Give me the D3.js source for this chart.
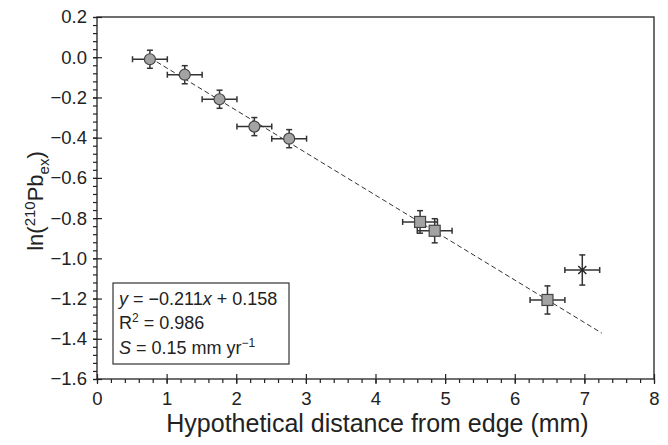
<!DOCTYPE html>
<html>
<head>
<meta charset="utf-8">
<script src="https://cdn.jsdelivr.net/npm/d3@7"></script>
<style>
  body { margin: 0; background: #fff; }
  text { font-family: "Liberation Sans", Arial, sans-serif; fill: #222; }
</style>
</head>
<body>
<svg width="668" height="445"></svg>
<script>
// circles (outer part), squares (inner part), and the outlier cross
const circleX = [0.76, 1.26, 1.76, 2.26, 2.76];
const circleY = [-0.01, -0.087, -0.209, -0.345, -0.405];
const circleErrY = [0.045, 0.045, 0.045, 0.045, 0.045];

const squareX = [4.64, 4.85, 6.47];
const squareY = [-0.819, -0.863, -1.207];
const squareErrY = [0.056, 0.06, 0.07];

const crossX = [6.97];
const crossY = [-1.058];
const crossErrY = [0.075];

const errX = 0.25;
const fitSlope = -0.211, fitIntercept = 0.158;
const fitRange = [0.76, 7.25];

const xTicks = [0, 1, 2, 3, 4, 5, 6, 7, 8];
const yTicks = [0.2, 0.0, -0.2, -0.4, -0.6, -0.8, -1.0, -1.2, -1.4, -1.6];

const svg = d3.select("svg"),
      margin = {top: 17, right: 14, bottom: 66, left: 97},
      width = +svg.attr("width") - margin.left - margin.right,
      height = +svg.attr("height") - margin.top - margin.bottom;

const g = svg.append("g").attr("transform", `translate(${margin.left},${margin.top})`);

const x = d3.scaleLinear().domain([0, 8]).range([0, width]);
const y = d3.scaleLinear().domain([-1.6, 0.2]).range([height, 0]);

// frame
g.append("rect").attr("width", width).attr("height", height)
  .attr("fill", "none").attr("stroke", "#222").attr("stroke-width", 1.3);

// minor ticks
const xMinor = d3.range(0, 8.001, 0.2);
g.append("g").attr("transform", `translate(0,${height})`)
  .call(d3.axisBottom(x).tickValues(xMinor).tickSize(4).tickFormat(""))
  .call(a => a.select(".domain").remove());
const yMinor = d3.range(-1.6, 0.2001, 0.04);
g.append("g")
  .call(d3.axisLeft(y).tickValues(yMinor).tickSize(4).tickFormat(""))
  .call(a => a.select(".domain").remove());

// major ticks crossing the axis
const xAx = g.append("g").attr("transform", `translate(0,${height})`)
  .call(d3.axisBottom(x).tickValues(xTicks).tickSize(5).tickPadding(8).tickFormat(d3.format("d")));
xAx.select(".domain").remove();
xAx.selectAll(".tick line").attr("y1", -5);
xAx.selectAll("text").attr("font-size", 18.5).attr("fill", "#222");

const yAx = g.append("g")
  .call(d3.axisLeft(y).tickValues(yTicks).tickSize(4).tickPadding(6)
    .tickFormat(d => d3.format(".1f")(d).replace("-", "\u2212")));
yAx.select(".domain").remove();
yAx.selectAll(".tick line").attr("x1", 5).attr("x2", -4);
yAx.selectAll("text").attr("font-size", 18.5).attr("fill", "#222");

svg.selectAll(".tick line").attr("stroke", "#222").attr("stroke-width", 1.2);

// axis labels
g.append("text")
  .attr("x", width / 2 + 2).attr("y", height + 53)
  .attr("text-anchor", "middle").attr("font-size", 25)
  .text("Hypothetical distance from edge (mm)");

// y label: start-anchored, then centred by measuring it
const yl = g.append("text").attr("font-size", 22);
yl.append("tspan").text("ln(");
yl.append("tspan").attr("dy", -8).attr("font-size", 15).text("210");
yl.append("tspan").attr("dy", 8).text("Pb");
yl.append("tspan").attr("dy", 6).attr("font-size", 15).text("ex");
yl.append("tspan").attr("dy", -6).text(")");
const ylw = yl.node().getBBox().width;
yl.attr("transform", `translate(-54,${184 + ylw / 2}) rotate(-90)`);

// fit line
g.append("line")
  .attr("x1", x(fitRange[0])).attr("y1", y(fitSlope * fitRange[0] + fitIntercept))
  .attr("x2", x(fitRange[1])).attr("y2", y(fitSlope * fitRange[1] + fitIntercept))
  .attr("stroke", "#333").attr("stroke-width", 1).attr("stroke-dasharray", "5,3");

// error bars
function errorBars(xs, ys, ey) {
  const data = xs.map((d, i) => ({x: d, y: ys[i], ey: ey[i]}));
  const eb = g.append("g").attr("stroke", "#333").attr("stroke-width", 1.5);
  data.forEach(d => {
    const cx = x(d.x), cy = y(d.y);
    const x0 = x(d.x - errX), x1 = x(d.x + errX);
    const y0 = y(d.y + d.ey), y1 = y(d.y - d.ey);
    eb.append("line").attr("x1", x0).attr("x2", x1).attr("y1", cy).attr("y2", cy);
    eb.append("line").attr("x1", cx).attr("x2", cx).attr("y1", y0).attr("y2", y1);
    eb.append("line").attr("x1", x0).attr("x2", x0).attr("y1", cy - 3).attr("y2", cy + 3);
    eb.append("line").attr("x1", x1).attr("x2", x1).attr("y1", cy - 3).attr("y2", cy + 3);
    eb.append("line").attr("x1", cx - 3).attr("x2", cx + 3).attr("y1", y0).attr("y2", y0);
    eb.append("line").attr("x1", cx - 3).attr("x2", cx + 3).attr("y1", y1).attr("y2", y1);
  });
  return data;
}

const cData = errorBars(circleX, circleY, circleErrY);
const sData = errorBars(squareX, squareY, squareErrY);
const xData = errorBars(crossX, crossY, crossErrY);

g.selectAll(".circ").data(cData).join("circle")
  .attr("cx", d => x(d.x)).attr("cy", d => y(d.y)).attr("r", 5.5)
  .attr("fill", "#a3a3a3").attr("stroke", "#444").attr("stroke-width", 1.2);

g.selectAll(".sq").data(sData).join("rect")
  .attr("x", d => x(d.x) - 5.5).attr("y", d => y(d.y) - 5.5)
  .attr("width", 11).attr("height", 11)
  .attr("fill", "#a3a3a3").attr("stroke", "#444").attr("stroke-width", 1.2);

g.selectAll(".cross").data(xData).join("path")
  .attr("d", d => {
    const cx = x(d.x), cy = y(d.y), s = 4;
    return `M${cx - s},${cy - s}L${cx + s},${cy + s}M${cx - s},${cy + s}L${cx + s},${cy - s}`;
  })
  .attr("stroke", "#222").attr("stroke-width", 1.4);

// stats box
const bx = 16, by = 266;
g.append("rect").attr("x", bx).attr("y", by).attr("width", 176).attr("height", 81)
  .attr("fill", "#fff").attr("stroke", "#333").attr("stroke-width", 1.2);

const t1 = g.append("text").attr("x", bx + 6).attr("y", by + 22).attr("font-size", 18);
t1.append("tspan").attr("font-style", "italic").text("y");
t1.append("tspan").text(" = \u22120.211");
t1.append("tspan").attr("font-style", "italic").text("x");
t1.append("tspan").text(" + 0.158");

const t2 = g.append("text").attr("x", bx + 6).attr("y", by + 46).attr("font-size", 18);
t2.append("tspan").text("R");
t2.append("tspan").attr("dy", -7).attr("font-size", 12).text("2");
t2.append("tspan").attr("dy", 7).text(" = 0.986");

const t3 = g.append("text").attr("x", bx + 6).attr("y", by + 71).attr("font-size", 18);
t3.append("tspan").attr("font-style", "italic").text("S");
t3.append("tspan").text(" = 0.15 mm yr");
t3.append("tspan").attr("dy", -7).attr("font-size", 12).text("\u22121");
</script>
</body>
</html>
